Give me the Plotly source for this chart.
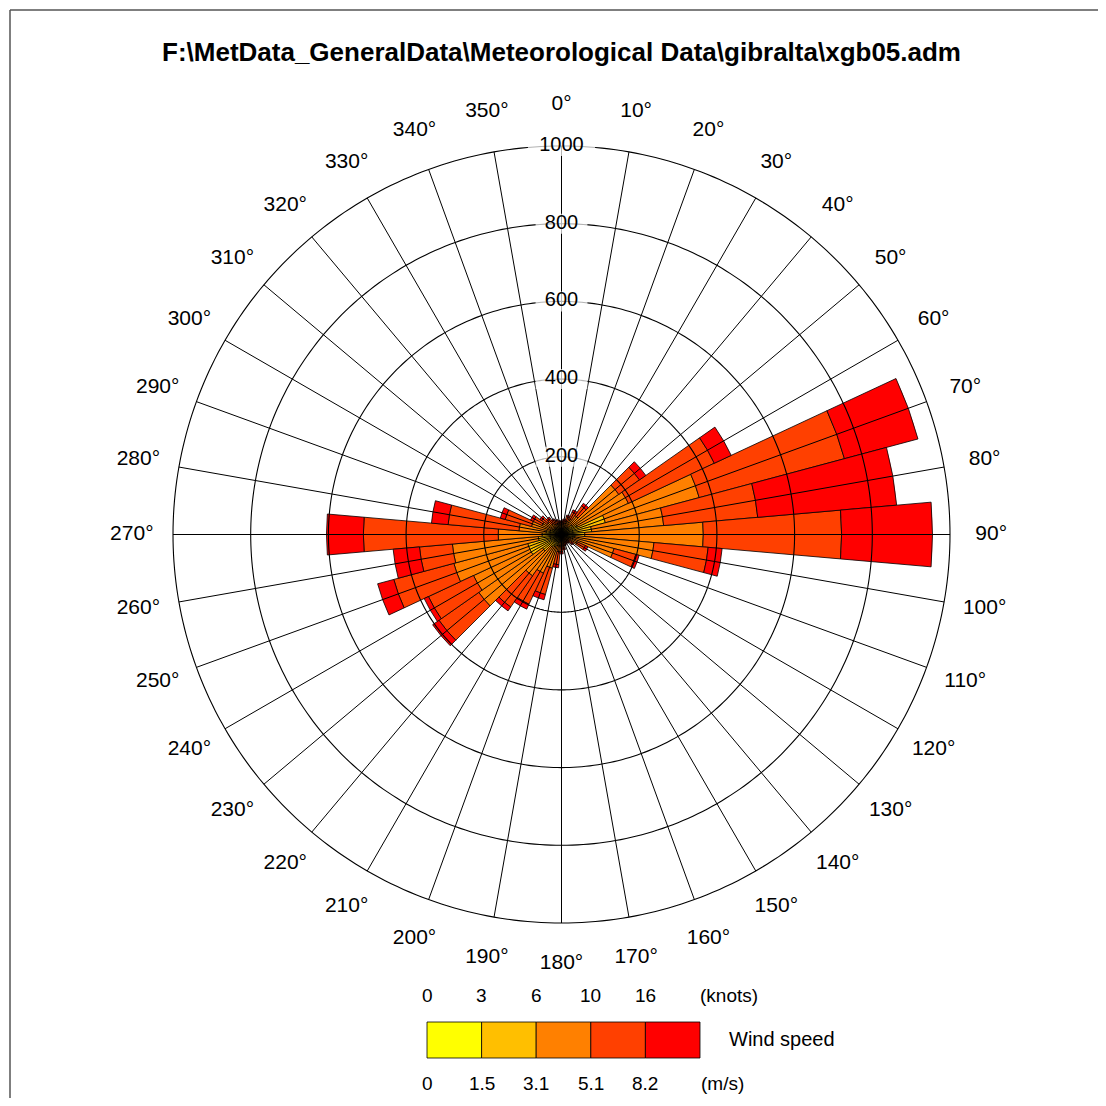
import plotly.graph_objects as go

# ---------------- data ----------------
directions = list(range(0, 360, 10))
speed_bins = ["0-1.5 m/s", "1.5-3.1 m/s", "3.1-5.1 m/s", "5.1-8.2 m/s", ">8.2 m/s"]
colors = ["#FFFF00", "#FFBF00", "#FF8000", "#FF4000", "#FF0000"]

# counts per direction (0..350 step 10) for each speed bin
calm_1 = [5, 5, 5, 5, 6, 8, 8, 10, 10, 10, 6, 5, 4, 4, 3, 3, 3, 4,
          4, 5, 6, 6, 7, 8, 8, 8, 8, 10, 8, 6, 5, 5, 5, 4, 4, 4]
light_2 = [10, 10, 13, 15, 19, 27, 37, 107, 68, 50, 29, 20, 14, 8, 7, 7, 7, 8,
           11, 15, 24, 29, 33, 52, 82, 82, 52, 40, 32, 24, 20, 15, 13, 11, 10, 10]
gentle_3 = [10, 13, 17, 25, 35, 145, 145, 250, 186, 305, 204, 115, 27, 13, 10, 8, 10, 13,
            15, 25, 60, 75, 90, 200, 160, 197, 222, 113, 70, 50, 30, 25, 17, 15, 14, 11]
fresh_4 = [7, 8, 13, 19, 30, 65, 244, 387, 243, 356, 140, 58, 23, 9, 6, 6, 8, 11,
           15, 33, 70, 88, 98, 125, 128, 160, 85, 347, 183, 70, 25, 17, 15, 12, 10, 8]
strong_5 = [3, 4, 4, 6, 8, 20, 48, 196, 359, 234, 36, 9, 7, 4, 2, 2, 2, 4,
            5, 8, 14, 14, 12, 20, 12, 43, 68, 95, 43, 13, 8, 6, 5, 3, 2, 3]
series = [calm_1, light_2, gentle_3, fresh_4, strong_5]

radial_ticks = [200, 400, 600, 800, 1000]
direction_labels = [f"{d}°" for d in directions]

knots_labels = ["0", "3", "6", "10", "16"]
ms_labels = ["0", "1.5", "3.1", "5.1", "8.2"]

title_text = "F:\\MetData_GeneralData\\Meteorological Data\\gibralta\\xgb05.adm"

# ---------------- figure ----------------
OFF = 8            # page body margin of the html page
W = H = 1090
FONT = "Liberation Sans, Arial, sans-serif"
R_MAX = radial_ticks[-1]       # outer ring of the rose
R_AXIS = 1120                  # axis extends beyond the rose to hold the direction labels
LABEL_R = 1106                 # radial position of the direction labels


def px(x):
    return (x - OFF) / W


def py(y):
    return 1 - (y - OFF) / H


fig = go.Figure()

for name, col, vals in zip(speed_bins, colors, series):
    fig.add_trace(go.Barpolar(
        r=vals, theta=directions, width=10, name=name,
        marker=dict(color=col, line=dict(color="black", width=0.8)),
        showlegend=False,
    ))

# grid drawn above the bars (as in the reference)
spoke_r, spoke_t = [], []
for d in directions:
    spoke_r += [0, R_MAX, None]
    spoke_t += [d, d, None]
fig.add_trace(go.Scatterpolar(r=spoke_r, theta=spoke_t, mode="lines",
                              line=dict(color="black", width=1),
                              hoverinfo="skip", showlegend=False))
ring_r, ring_t = [], []
for rv in radial_ticks:
    ts = list(range(0, 361, 1))
    ring_r += [rv] * len(ts) + [None]
    ring_t += ts + [None]
fig.add_trace(go.Scatterpolar(r=ring_r, theta=ring_t, mode="lines",
                              line=dict(color="black", width=1.1),
                              hoverinfo="skip", showlegend=False))

# radial labels on the 0 degree line with white background
fig.add_trace(go.Scatterpolar(
    r=radial_ticks, theta=[0] * len(radial_ticks), mode="markers+text",
    text=[str(v) for v in radial_ticks], textposition="middle center",
    textfont=dict(family=FONT, size=20, color="black"),
    marker=dict(symbol="line-ew", size=[len(str(v)) * 11 + 4 for v in radial_ticks],
                color="white", line=dict(color="white", width=20)),
    cliponaxis=False, hoverinfo="skip", showlegend=False,
))

# direction labels centred on a circle outside the rose
fig.add_trace(go.Scatterpolar(
    r=[LABEL_R] * len(directions), theta=directions, mode="text",
    text=direction_labels, textposition="middle center",
    textfont=dict(family=FONT, size=21, color="black"),
    cliponaxis=False, hoverinfo="skip", showlegend=False,
))

cx, cy, R = 561.5, 534.5, 388.5 * R_AXIS / R_MAX
fig.update_layout(
    width=W, height=H,
    margin=dict(l=0, r=0, t=0, b=0),
    paper_bgcolor="white",
    showlegend=False,
    font=dict(family=FONT, color="black"),
    polar=dict(
        domain=dict(x=[px(cx - R), px(cx + R)], y=[py(cy + R), py(cy - R)]),
        bgcolor="white",
        barmode="stack",
        angularaxis=dict(
            rotation=90, direction="clockwise",
            tickmode="array", tickvals=directions,
            showticklabels=False, showgrid=False, showline=False, ticks="",
        ),
        radialaxis=dict(range=[0, R_AXIS], showgrid=False, showline=False,
                        showticklabels=False, ticks=""),
    ),
)

# title
fig.add_annotation(text=f"<b>{title_text}</b>", x=px(561.5), y=py(52),
                   xref="paper", yref="paper", showarrow=False,
                   xanchor="center", yanchor="middle",
                   font=dict(family=FONT, size=26, color="black"))

# frame
fig.add_shape(type="line", xref="paper", yref="paper", x0=px(10), x1=1.02, y0=py(10), y1=py(10),
              line=dict(color="#555555", width=1.5))
fig.add_shape(type="line", xref="paper", yref="paper", x0=px(10), x1=px(10), y0=-0.02, y1=py(10),
              line=dict(color="#555555", width=1.5))

# wind speed legend
lx0, bw, by0, by1 = 427, 54.6, 1022, 1058
for i, col in enumerate(colors):
    fig.add_shape(type="rect", xref="paper", yref="paper",
                  x0=px(lx0 + i * bw), x1=px(lx0 + (i + 1) * bw),
                  y0=py(by1), y1=py(by0),
                  fillcolor=col, line=dict(color="black", width=0.8))
for i, (k, m) in enumerate(zip(knots_labels, ms_labels)):
    xp = px(lx0 + i * bw)
    fig.add_annotation(text=k, x=xp, y=py(995), xref="paper", yref="paper",
                       showarrow=False, xanchor="center", yanchor="middle",
                       font=dict(family=FONT, size=19, color="black"))
    fig.add_annotation(text=m, x=xp, y=py(1083), xref="paper", yref="paper",
                       showarrow=False, xanchor="center", yanchor="middle",
                       font=dict(family=FONT, size=19, color="black"))
fig.add_annotation(text="(knots)", x=px(698), y=py(995), xref="paper", yref="paper",
                   showarrow=False, xanchor="left", yanchor="middle",
                   font=dict(family=FONT, size=19, color="black"))
fig.add_annotation(text="(m/s)", x=px(699), y=py(1083), xref="paper", yref="paper",
                   showarrow=False, xanchor="left", yanchor="middle",
                   font=dict(family=FONT, size=19, color="black"))
fig.add_annotation(text="Wind speed", x=px(727), y=py(1039), xref="paper", yref="paper",
                   showarrow=False, xanchor="left", yanchor="middle",
                   font=dict(family=FONT, size=20, color="black"))

fig.write_html("out.html")
